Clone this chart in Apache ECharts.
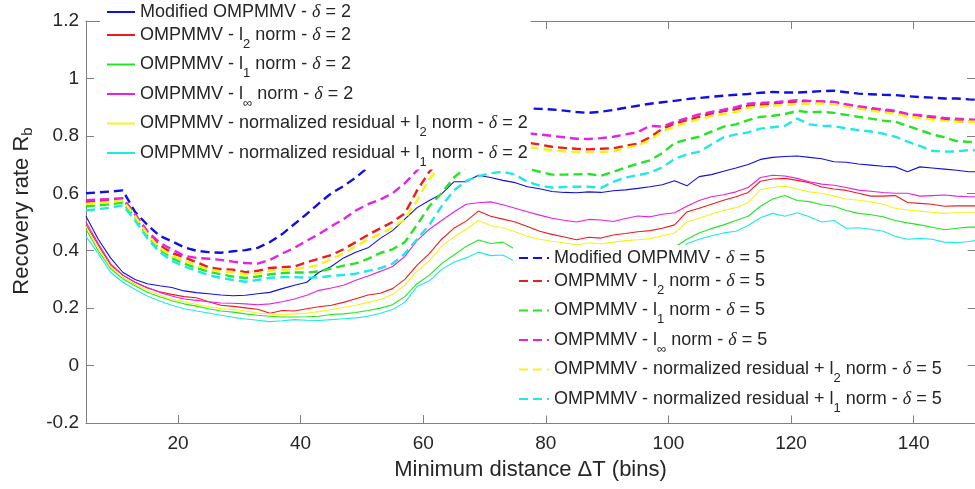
<!DOCTYPE html>
<html>
<head>
<meta charset="utf-8">
<script src="https://cdn.jsdelivr.net/npm/echarts@6/dist/echarts.min.js"></script>
<style>
  html, body { margin: 0; padding: 0; background: #ffffff; }
  #chart { width: 975px; height: 489px; }
</style>
</head>
<body>
<div id="chart"></div>
<script>
// Minimum distance ΔT (bins)
const distance = [5,7,9,11,13,15,17,19,21,23,
  25,27,29,31,33,35,37,39,41,43,
  45,47,49,51,53,55,57,59,61,63,
  65,67,69,71,73,75,77,79,81,83,
  85,87,89,91,93,95,97,99,101,103,
  105,107,109,111,113,115,117,119,121,123,
  125,127,129,131,133,135,137,139,141,143,
  145,147,149,150];

const xTicks = [20, 40, 60, 80, 100, 120, 140];

// δ = 2 (solid)
const modified2 = [.520,.440,.375,.325,.300,.285,.278,.272,.260,.254,
  .250,.246,.243,.245,.250,.255,.268,.280,.290,.325,
  .345,.375,.395,.410,.443,.470,.510,.550,.575,.598,
  .640,.640,.663,.655,.645,.637,.623,.616,.606,.603,
  .602,.605,.603,.609,.612,.617,.623,.630,.644,.626,
  .658,.665,.677,.688,.700,.718,.725,.728,.730,.725,
  .720,.710,.708,.702,.698,.694,.692,.675,.692,.688,
  .684,.680,.675,.675];
const l2norm2 = [.490,.420,.350,.315,.290,.270,.257,.248,.240,.236,
  .222,.210,.206,.201,.196,.182,.192,.190,.198,.205,
  .210,.220,.233,.246,.252,.268,.300,.350,.390,.440,
  .478,.503,.538,.520,.510,.500,.484,.468,.457,.448,
  .438,.447,.444,.455,.460,.466,.470,.478,.490,.535,
  .548,.562,.576,.588,.603,.642,.650,.652,.645,.637,
  .622,.615,.610,.600,.590,.590,.592,.568,.565,.562,
  .555,.556,.556,.556];
const l1norm2 = [.475,.400,.338,.302,.278,.255,.240,.226,.215,.207,
  .198,.190,.186,.180,.175,.172,.169,.169,.170,.172,
  .178,.180,.185,.192,.200,.212,.240,.285,.315,.355,
  .385,.415,.437,.425,.430,.405,.400,.395,.390,.388,
  .385,.390,.395,.400,.405,.408,.410,.412,.412,.440,
  .462,.477,.490,.505,.520,.555,.580,.592,.575,.571,
  .560,.555,.540,.530,.525,.518,.505,.497,.490,.482,
  .473,.478,.482,.482];
const linfnorm2 = [.500,.425,.355,.315,.290,.272,.255,.242,.232,.227,
  .222,.218,.217,.215,.212,.215,.222,.232,.245,.262,
  .270,.280,.297,.312,.328,.345,.380,.435,.475,.505,
  .535,.562,.567,.570,.560,.548,.536,.524,.513,.506,
  .500,.509,.507,.502,.512,.521,.518,.527,.532,.555,
  .575,.588,.595,.605,.620,.655,.663,.660,.652,.640,
  .632,.628,.620,.611,.607,.603,.600,.600,.590,.592,
  .594,.590,.588,.588];
const resL2norm2 = [.485,.410,.345,.308,.283,.262,.245,.232,.222,.213,
  .205,.198,.195,.190,.183,.180,.177,.180,.183,.188,
  .195,.203,.210,.220,.230,.248,.280,.330,.365,.415,
  .448,.475,.505,.488,.480,.466,.450,.440,.433,.428,
  .420,.428,.424,.430,.435,.438,.442,.452,.462,.500,
  .513,.528,.540,.550,.568,.612,.620,.625,.615,.605,
  .600,.590,.580,.576,.570,.562,.548,.542,.538,.534,
  .530,.532,.532,.532];
const resL1norm2 = [.450,.390,.325,.290,.265,.242,.225,.210,.198,.190,
  .183,.175,.168,.162,.158,.153,.156,.160,.158,.157,
  .160,.163,.166,.172,.182,.195,.220,.275,.295,.335,
  .360,.375,.395,.383,.385,.362,.355,.350,.345,.342,
  .340,.345,.348,.350,.352,.355,.358,.362,.370,.425,
  .440,.452,.462,.468,.488,.515,.530,.520,.532,.518,
  .500,.505,.478,.480,.475,.468,.450,.440,.443,.440,
  .430,.428,.432,.435];

// δ = 5 (dashed)
const modified5 = [.600,.603,.606,.610,.535,.490,.452,.433,.412,.400,
  .395,.393,.398,.402,.410,.430,.458,.493,.528,.565,
  .600,.625,.655,.690,.730,.770,.800,.830,.855,.870,
  .880,.887,.892,.895,.897,.897,.896,.894,.892,.888,
  .883,.880,.884,.890,.898,.905,.912,.917,.922,.928,
  .932,.936,.940,.943,.946,.950,.953,.951,.951,.953,
  .956,.957,.952,.947,.945,.943,.942,.938,.935,.933,
  .930,.930,.927,.926];
const l2norm5 = [.570,.573,.576,.580,.525,.465,.420,.392,.377,.360,
  .342,.336,.334,.325,.330,.340,.343,.345,.360,.372,
  .385,.405,.430,.455,.478,.500,.530,.610,.675,.720,
  .745,.760,.770,.775,.777,.778,.776,.770,.762,.758,
  .755,.753,.755,.757,.765,.773,.795,.825,.843,.855,
  .866,.878,.886,.893,.905,.909,.913,.917,.920,.921,
  .919,.917,.908,.899,.893,.888,.884,.875,.870,.864,
  .858,.853,.849,.849];
const l1norm5 = [.555,.558,.562,.568,.515,.453,.405,.375,.355,.340,
  .327,.318,.310,.305,.310,.318,.322,.324,.324,.328,
  .338,.348,.356,.372,.392,.405,.430,.490,.555,.600,
  .655,.690,.700,.705,.705,.700,.685,.675,.665,.665,
  .666,.667,.661,.675,.690,.703,.715,.740,.775,.787,
  .797,.815,.832,.840,.855,.866,.870,.876,.887,.882,
  .884,.880,.873,.866,.860,.853,.849,.835,.820,.805,
  .795,.782,.779,.779];
const linfnorm5 = [.576,.578,.580,.583,.528,.468,.428,.405,.382,.375,
  .372,.368,.362,.357,.355,.368,.390,.410,.435,.458,
  .485,.510,.540,.562,.578,.600,.635,.680,.720,.750,
  .770,.785,.795,.802,.806,.809,.809,.805,.800,.795,
  .790,.789,.792,.797,.805,.813,.835,.832,.849,.862,
  .875,.883,.891,.900,.912,.915,.917,.920,.924,.922,
  .920,.918,.910,.903,.897,.892,.887,.876,.872,.868,
  .862,.860,.857,.856];
const resL2norm5 = [.563,.566,.570,.575,.520,.458,.410,.383,.365,.350,
  .335,.328,.325,.318,.320,.330,.333,.335,.342,.350,
  .372,.390,.415,.440,.458,.480,.510,.575,.650,.700,
  .730,.745,.755,.762,.765,.766,.762,.755,.750,.746,
  .744,.743,.744,.745,.758,.767,.785,.815,.832,.845,
  .858,.868,.876,.882,.898,.901,.905,.908,.910,.912,
  .913,.910,.902,.895,.888,.882,.877,.868,.862,.857,
  .852,.850,.849,.849];
const resL1norm5 = [.540,.545,.550,.558,.505,.443,.395,.365,.345,.330,
  .315,.305,.298,.292,.298,.306,.308,.308,.306,.307,
  .312,.316,.320,.330,.339,.355,.390,.440,.490,.555,
  .610,.643,.660,.670,.675,.665,.640,.627,.620,.622,
  .623,.623,.619,.640,.655,.663,.672,.690,.720,.735,
  .745,.770,.795,.805,.812,.825,.830,.835,.860,.840,
  .835,.834,.826,.820,.815,.808,.797,.780,.765,.748,
  .745,.746,.750,.750];

const solidNames = [
  'Modified OMPMMV - δ = 2',
  'OMPMMV - l2 norm - δ = 2',
  'OMPMMV - l1 norm - δ = 2',
  'OMPMMV - l∞ norm - δ = 2',
  'OMPMMV - normalized residual + l2 norm - δ = 2',
  'OMPMMV - normalized residual + l1 norm - δ = 2'
];
const dashedNames = [
  'Modified OMPMMV - δ = 5',
  'OMPMMV - l2 norm - δ = 5',
  'OMPMMV - l1 norm - δ = 5',
  'OMPMMV - l∞ norm - δ = 5',
  'OMPMMV - normalized residual + l2 norm - δ = 5',
  'OMPMMV - normalized residual + l1 norm - δ = 5'
];
const solidValues = [modified2, l2norm2, l1norm2, linfnorm2, resL2norm2, resL1norm2];
const dashedValues = [modified5, l2norm5, l1norm5, linfnorm5, resL2norm5, resL1norm5];
const colors = ['#1010e0', '#ee1c1c', '#22e622', '#e620e6', '#f4f41c', '#20e8e8'];

const SANS = 'Liberation Sans, Arial, Helvetica, sans-serif';
const SERIF = 'Liberation Serif, Times New Roman, serif';
const AXIS_GRAY = '#808080';
const TEXT = '#262626';

// Turn "l2", "l1", "l∞" into subscripts and set δ in italics
function richLabel(name) {
  return name.replace(/ l(2|1|∞) /, ' l{s|$1} ').replace('δ', '{d|δ}');
}

const legendRich = {
  s: { fontSize: 13, fontFamily: SANS, color: TEXT, padding: [18, 0, 0, 0], lineHeight: 33 },
  d: { fontSize: 18, fontFamily: SERIF, fontStyle: 'italic', color: TEXT, lineHeight: 20 }
};

function toPairs(values) {
  return distance.map((x, i) => [x, values[i]]);
}

const series = [];
solidNames.forEach((name, i) => {
  series.push({
    name: name,
    type: 'line',
    symbol: 'none',
    data: toPairs(solidValues[i]),
    lineStyle: { color: colors[i], width: 1.1, type: 'solid' },
    itemStyle: { color: colors[i] }
  });
});
dashedNames.forEach((name, i) => {
  series.push({
    name: name,
    type: 'line',
    symbol: 'none',
    data: toPairs(dashedValues[i]),
    lineStyle: { color: colors[i], width: 2.4, type: [9, 5] },
    itemStyle: { color: colors[i] }
  });
});

// Legend entries show only the line sample, no marker
const legendCommon = {
  orient: 'vertical',
  backgroundColor: '#ffffff',
  itemGap: -3.5,
  itemHeight: 14,
  selectedMode: false,
  itemStyle: { opacity: 0, borderWidth: 0 },
  formatter: richLabel,
  textStyle: { fontSize: 18, fontFamily: SANS, color: TEXT, lineHeight: 20, rich: legendRich }
};

const boxAxisLine = { onZero: false, lineStyle: { color: AXIS_GRAY, width: 1 } };

const chart = echarts.init(document.getElementById('chart'), null, { renderer: 'canvas' });
chart.setOption({
  animation: false,
  backgroundColor: '#ffffff',
  grid: { left: 86, top: 21, width: 892, height: 402 },
  xAxis: [
    {
      type: 'value', min: 5, max: 150, position: 'bottom',
      name: 'Minimum distance ΔT (bins)', nameLocation: 'middle', nameGap: 36,
      nameTextStyle: { fontSize: 22, fontFamily: SANS, color: TEXT },
      axisLine: boxAxisLine,
      axisTick: { inside: true, length: 8, lineStyle: { color: AXIS_GRAY }, customValues: xTicks },
      axisLabel: { fontSize: 19, fontFamily: SANS, color: TEXT, margin: 11, customValues: xTicks },
      splitLine: { show: false }
    },
    {
      type: 'value', min: 5, max: 150, position: 'top',
      axisLine: boxAxisLine,
      axisTick: { inside: true, length: 8, lineStyle: { color: AXIS_GRAY }, customValues: xTicks },
      axisLabel: { show: false },
      splitLine: { show: false }
    }
  ],
  yAxis: [
    {
      type: 'value', min: -0.2, max: 1.2, interval: 0.2, position: 'left',
      name: 'Recovery rate R{b|b}', nameLocation: 'middle', nameGap: 46,
      nameTextStyle: {
        fontSize: 22, fontFamily: SANS, color: TEXT, padding: [0, 0, 0, 22],
        rich: { b: { fontSize: 15, fontFamily: SANS, color: TEXT, padding: [12, 0, 0, 0] } }
      },
      axisLine: Object.assign({ show: true }, boxAxisLine),
      axisTick: { show: true, inside: true, length: 8, lineStyle: { color: AXIS_GRAY } },
      axisLabel: {
        fontSize: 19, fontFamily: SANS, color: TEXT, margin: 7,
        formatter: (v) => String(parseFloat(v.toFixed(1)))
      },
      splitLine: { show: false }
    },
    {
      type: 'value', min: -0.2, max: 1.2, interval: 0.2, position: 'right',
      axisLine: Object.assign({ show: true }, boxAxisLine),
      axisTick: { show: true, inside: true, length: 8, lineStyle: { color: AXIS_GRAY } },
      axisLabel: { show: false },
      splitLine: { show: false }
    }
  ],
  legend: [
    Object.assign({}, legendCommon, {
      data: solidNames, left: 100, top: 0, itemWidth: 28,
      padding: [2, 3, 0, 6]
    }),
    Object.assign({}, legendCommon, {
      data: dashedNames, left: 513, top: 245, itemWidth: 30,
      padding: [3, 26, 0, 5]
    })
  ],
  series: series
});
</script>
</body>
</html>
